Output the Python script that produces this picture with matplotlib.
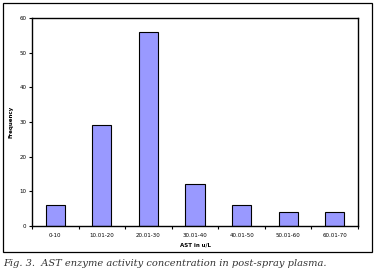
import numpy as np
import matplotlib.pyplot as plt
from matplotlib.patches import Rectangle

# data
categories = ['0-10', '10.01-20', '20.01-30', '30.01-40', '40.01-50', '50.01-60', '60.01-70']
freq = [6, 29, 56, 12, 6, 4, 4]

W, H = 376, 277
fig = plt.figure(figsize=(W / 100, H / 100), dpi=100)

# outer frame around the chart
fig.patches.append(Rectangle((3 / W, 1 - 252 / H), 369 / W, 249 / H,
                             transform=fig.transFigure, fill=False,
                             edgecolor='black', linewidth=0.9))

ax = fig.add_axes([32 / W, 1 - 226 / H, 326 / W, 208 / H])
x = np.arange(len(categories))
ax.bar(x, freq, width=0.41, color='#9999FF', edgecolor='black', linewidth=0.8)

ax.set_xlim(-0.5, len(categories) - 0.5)
ax.set_ylim(0, 60)
ax.set_yticks(range(0, 61, 10))
ax.set_xticks(x)
ax.set_xticklabels(categories)
ax.set_xticks(np.arange(-0.5, len(categories), 1), minor=True)
ax.tick_params(axis='x', which='major', length=0, labelsize=4, pad=5)
ax.tick_params(axis='x', which='minor', length=2.5, width=0.8, direction='out')
ax.tick_params(axis='y', length=2.5, width=0.8, labelsize=4, pad=1.5)
for s in ax.spines.values():
    s.set_linewidth(1.0)

ax.set_xlabel('AST in u/L', fontsize=4, fontweight='bold', labelpad=3)
ax.set_ylabel('Frequency', fontsize=4, fontweight='bold', labelpad=4)

fig.text(3 / W, 1 - 264 / H, 'Fig. 3.  AST enzyme activity concentration in post-spray plasma.',
         family='DejaVu Serif', style='italic', fontsize=7.1, va='center', ha='left',
         color='#333333')

plt.savefig('out.png', dpi=100)
